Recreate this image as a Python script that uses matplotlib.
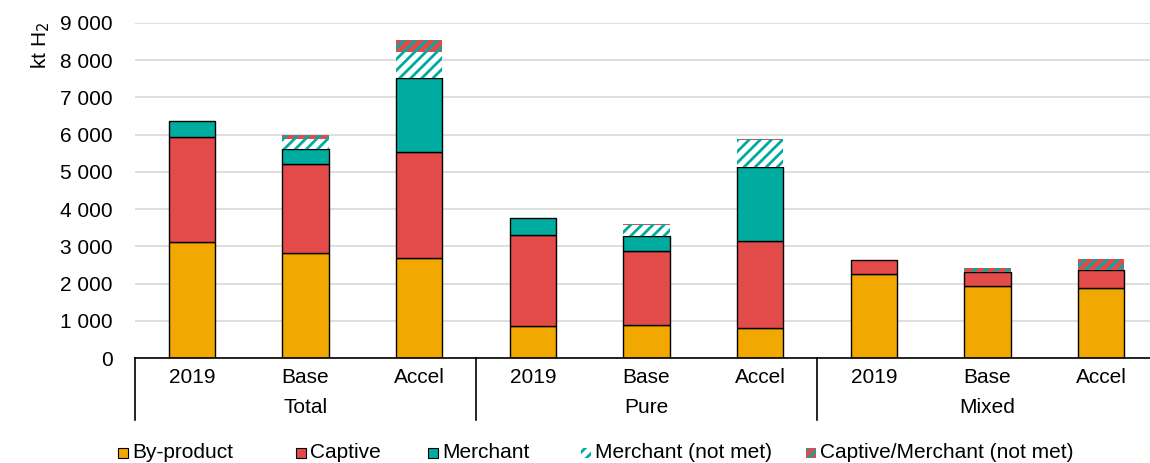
import numpy as np
import matplotlib
matplotlib.use("Agg")
import matplotlib.pyplot as plt
from matplotlib.patches import Rectangle
from matplotlib.ticker import FuncFormatter
import matplotlib.transforms as mtransforms

plt.rcParams['font.family'] = ['Liberation Sans', 'DejaVu Sans']
plt.rcParams['hatch.linewidth'] = 2.0

# data (kt H2)
groups = ["Total", "Pure", "Mixed"]
scenarios = ["2019", "Base", "Accel"]
by_product = [3120, 2810, 2680, 860, 885, 810, 2270, 1930, 1870]
captive = [2810, 2400, 2850, 2440, 2000, 2335, 365, 385, 505]
merchant = [450, 400, 1980, 460, 395, 1980, 0, 0, 0]
merchant_not_met = [0, 280, 720, 0, 300, 730, 0, 0, 0]
capt_merch_not_met = [0, 105, 315, 0, 15, 25, 0, 90, 290]

c_by = "#F1A800"
c_cap = "#E34B4B"
c_mer = "#00ABA0"

fig = plt.figure(figsize=(11.5, 4.63), dpi=100)
ax = fig.add_axes([135 / 1150, 1 - 358 / 463, 1023 / 1150, 335 / 463])

x = np.arange(len(by_product))
w = 0.41
bottom = np.zeros(len(x))
for vals, col in [(by_product, c_by), (captive, c_cap), (merchant, c_mer)]:
    v = np.array(vals, dtype=float)
    m = v > 0
    ax.bar(x[m], v[m], w, bottom=bottom[m], color=col, edgecolor="black", linewidth=1, zorder=3)
    bottom += v

v = np.array(merchant_not_met, dtype=float)
m = v > 0
ax.bar(x[m], v[m], w, bottom=bottom[m], color="white", edgecolor=c_mer, hatch="///", linewidth=0, zorder=3)
bottom += v
v = np.array(capt_merch_not_met, dtype=float)
m = v > 0
ax.bar(x[m], v[m], w, bottom=bottom[m], color=c_cap, edgecolor=c_mer, hatch="///", linewidth=0, zorder=3)

ax.set_xlim(-0.5, 8.5)
ax.set_ylim(0, 9000)
ax.set_yticks(np.arange(0, 9001, 1000))
ax.yaxis.set_major_formatter(FuncFormatter(lambda v, p: f"{int(v):,}".replace(",", " ")))
ax.tick_params(axis="y", length=0, pad=16, labelsize=15)
ax.set_xticks([])
ax.grid(axis="y", color="#d9d9d9", linewidth=1.2, zorder=0)
for s in ["left", "right", "top"]:
    ax.spines[s].set_visible(False)
ax.spines["bottom"].set_color("black")
ax.spines["bottom"].set_linewidth(1.2)
ax.spines["bottom"].set_zorder(4)

# category axis with groups
trans = mtransforms.blended_transform_factory(ax.transData, ax.transAxes)
for i, xi in enumerate(x):
    ax.text(xi, -0.057, scenarios[i % 3], transform=trans, ha="center", va="center", fontsize=15)
for g, name in enumerate(groups):
    ax.text(g * 3 + 1, -0.148, name, transform=trans, ha="center", va="center", fontsize=15)
for sep in [-0.5, 2.5, 5.5, 8.5]:
    ax.plot([sep, sep], [0, -0.185], transform=trans, color="black", linewidth=1.2, clip_on=False)

fig.text(41 / 1150, 1 - 45 / 463, "kt H$_2$", rotation=90, ha="center", va="center", fontsize=15)

# legend drawn by hand to match the spacing
legend_items = [
    ("By-product", 118, dict(facecolor=c_by, edgecolor="black", linewidth=0.8)),
    ("Captive", 296, dict(facecolor=c_cap, edgecolor="black", linewidth=0.8)),
    ("Merchant", 428, dict(facecolor=c_mer, edgecolor="black", linewidth=0.8)),
    ("Merchant (not met)", 581, dict(facecolor="white", edgecolor=c_mer, hatch="///", linewidth=0)),
    ("Captive/Merchant (not met)", 806, dict(facecolor=c_cap, edgecolor=c_mer, hatch="///", linewidth=0)),
]
yc = 453
sq = 10
for label, px, kw in legend_items:
    fig.add_artist(Rectangle((px / 1150, 1 - (yc + sq / 2) / 463), sq / 1150, sq / 463,
                             transform=fig.transFigure, **kw))
    fig.text((px + sq + 4) / 1150, 1 - yc / 463, label, ha="left", va="center", fontsize=15)

fig.savefig("out.png", dpi=100)
